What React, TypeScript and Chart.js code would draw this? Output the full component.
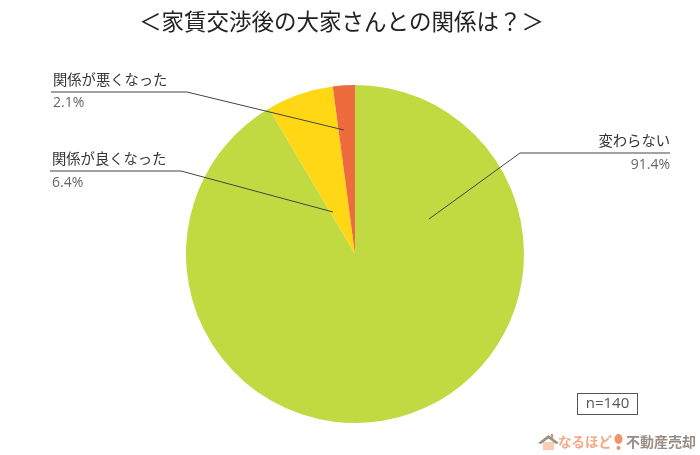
import React, { useEffect, useRef } from "react";
import { Chart, registerables } from "chart.js";

Chart.register(...registerables);

const categories = ["変わらない", "関係が良くなった", "関係が悪くなった"];
const percentValues = [91.4, 6.4, 2.1];
const sliceColors = ["#C1DA41", "#FFD714", "#EE6B3E"];
const chartTitle = "＜家賃交渉後の大家さんとの関係は？＞";
const sampleNote = "n=140";

const JP = '"Noto Sans CJK JP", "Noto Sans", sans-serif';
const NUM = '"Open Sans", "Noto Sans", sans-serif';

const callouts = [
  { index: 0, path: [[670, 153], [520, 153], [429, 219]], x: 670, nameY: 141, valueY: 165, align: "right" },
  { index: 1, path: [[50, 171], [181, 171], [333, 212]], x: 52, nameY: 159, valueY: 183, align: "left" },
  { index: 2, path: [[51, 92], [187, 92], [344, 130]], x: 53, nameY: 80, valueY: 103, align: "left" },
];

const annotationPlugin = {
  id: "annotations",
  afterDraw(chart: any) {
    const c = chart.ctx;
    c.save();
    c.textBaseline = "middle";

    // title
    c.textAlign = "center";
    c.fillStyle = "#222222";
    c.font = `400 22.5px ${JP}`;
    c.fillText(chartTitle, 341.5, 21);

    for (const k of callouts) {
      c.beginPath();
      k.path.forEach(([x, y], i) => (i ? c.lineTo(x, y) : c.moveTo(x, y)));
      c.strokeStyle = "#444444";
      c.lineWidth = 1;
      c.stroke();
      c.textAlign = k.align;
      c.fillStyle = "#333333";
      c.font = `400 14.3px ${JP}`;
      c.fillText(categories[k.index], k.x, k.nameY);
      c.fillStyle = "#666666";
      c.font = `400 14px ${NUM}`;
      c.fillText(`${percentValues[k.index]}%`, k.x, k.valueY);
    }

    // sample size box
    c.strokeStyle = "#555555";
    c.lineWidth = 1;
    c.strokeRect(577.5, 393.5, 60, 21);
    c.fillStyle = "#555555";
    c.textAlign = "center";
    c.font = `400 15px ${NUM}`;
    c.fillText(sampleNote, 607.5, 404);

    // brand mark
    c.fillStyle = "#F8CDB4";
    c.fillRect(543, 442, 11, 8);
    c.fillStyle = "#9A8F86";
    c.beginPath();
    c.moveTo(538, 443);
    c.lineTo(548.5, 435);
    c.lineTo(559, 443);
    c.lineTo(556, 444);
    c.lineTo(548.5, 438.5);
    c.lineTo(541, 444);
    c.closePath();
    c.fill();
    c.fillStyle = "#EE8A5E";
    c.fillRect(551, 434, 2, 4);
    c.textAlign = "left";
    c.fillStyle = "#F4A885";
    c.font = `700 13.5px ${JP}`;
    c.fillText("なるほど", 558, 442);
    c.fillStyle = "#EE9468";
    c.beginPath();
    c.ellipse(618.5, 439, 4, 5, 0, 0, Math.PI * 2);
    c.fill();
    c.beginPath();
    c.arc(618.5, 448, 2, 0, Math.PI * 2);
    c.fill();
    c.fillStyle = "#978D85";
    c.font = `700 14px ${JP}`;
    c.fillText("不動産売却", 626, 442);
    c.restore();
  },
};

export default function App() {
  const ref = useRef<HTMLCanvasElement | null>(null);
  useEffect(() => {
    const chart = new Chart(ref.current!, {
      type: "pie",
      data: {
        labels: categories,
        datasets: [{ data: percentValues, backgroundColor: sliceColors, borderWidth: 0 }],
      },
      options: {
        responsive: false,
        animation: false,
        devicePixelRatio: 1,
        layout: { padding: { left: 186, right: 176, top: 85, bottom: 32 } },
        plugins: {
          legend: { display: false },
          tooltip: { enabled: false },
          title: { display: false },
        },
      },
      plugins: [annotationPlugin],
    } as any);
    return () => chart.destroy();
  }, []);
  return (
    <div style={{ position: "fixed", left: 0, top: 0, width: 700, height: 455, background: "#fff" }}>
      <canvas ref={ref} width={700} height={455} style={{ display: "block" }} />
    </div>
  );
}
